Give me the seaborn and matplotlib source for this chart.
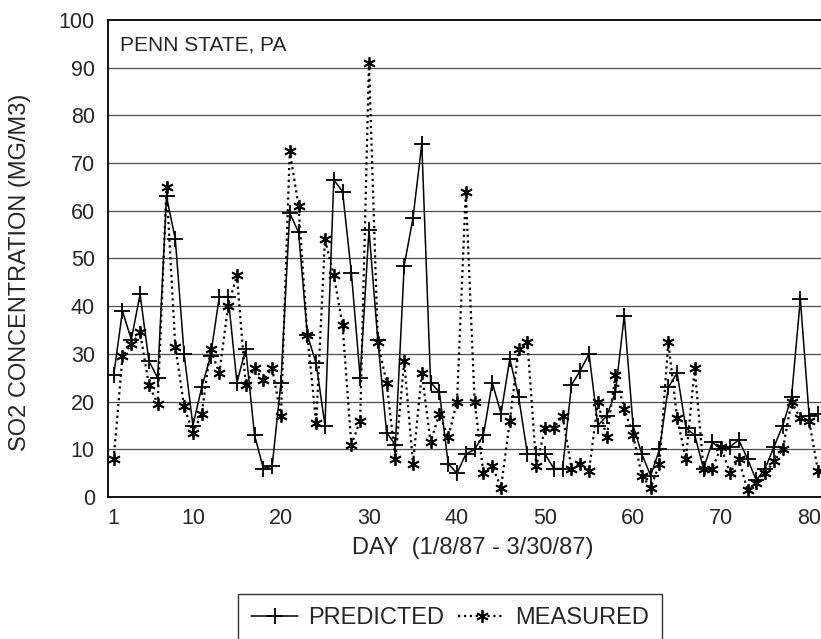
import matplotlib
matplotlib.use('Agg')
import matplotlib.pyplot as plt
from matplotlib.lines import Line2D
import numpy as np
import pandas as pd
import seaborn as sns

# days 1..81 (1/8/87 - 3/30/87)
days = list(range(1, 82))

predicted = [25.5, 39, 33, 42.5, 28.5, 25, 63, 54, 30, 15,
             23, 29.5, 42, 42, 24, 31, 13, 6, 6.5, 24,
             59.5, 55.5, 34, 28, 15, 66.5, 64, 47, 25, 56,
             33, 13.5, 11, 48.5, 58.5, 74, 24, 22, 7, 5,
             9, 10, 13, 24, 17.5, 29, 21, 9, 9, 9,
             6, 6, 23.5, 26.5, 30, 15, 17, 22, 38, 15,
             9, 4.5, 10, 23, 26, 14.5, 13, 6, 11.5, 10,
             10.5, 12, 8, 3.5, 6, 10.5, 15, 21, 41.5, 17,
             17.5]

measured = [8, 29.5, 32, 34.5, 23.5, 19.5, 65, 31.5, 19, 13.5,
            17.5, 31, 26, 40, 46.5, 23.5, 27, 24.5, 27, 17,
            72.5, 61, 34, 15.5, 54, 46.5, 36, 11, 16, 91,
            32.5, 24, 8, 28.5, 7, 26, 11.5, 17.5, 12.5, 20,
            64, 20, 5, 6.5, 2, 16, 31, 32.5, 6.5, 14.5,
            14.5, 17, 6, 7, 5.5, 20, 12.5, 25.5, 18.5, 13,
            4.5, 2, 7, 32.5, 16.5, 8, 27, 6, 6, 10.5,
            5, 8, 1.5, 3, 5, 7.5, 10, 20, 16.5, 16,
            5.5]

x_labels = [1, 10, 20, 30, 40, 50, 60, 70, 80]
y_labels = list(range(0, 101, 10))

df = pd.DataFrame({'Day': days, 'PREDICTED': predicted, 'MEASURED': measured})

sns.set_style('white')
plt.rcParams['font.family'] = ['Liberation Sans', 'DejaVu Sans']

fig = plt.figure(figsize=(8.21, 6.39), dpi=100)
ax = fig.add_axes([0.1315, 0.222, 0.868, 0.747])

star = (6, 2, 0)
sns.lineplot(data=df, x='Day', y='MEASURED', ax=ax, color='black', linestyle=':',
             linewidth=1.6, marker=star, markersize=9, markeredgewidth=1.3,
             markeredgecolor='black')
sns.lineplot(data=df, x='Day', y='PREDICTED', ax=ax, color='black', linestyle='-',
             linewidth=1.1, marker='+', markersize=11, markeredgewidth=1.3,
             markeredgecolor='black')

ax.set_xlim(0.35, 81.3)
ax.set_ylim(0, 100)
ax.set_yticks(y_labels)
ax.set_xticks(x_labels)
ax.set_xticks(days, minor=True)
for v in y_labels[1:-1]:
    ax.axhline(v, color='0.3', linewidth=0.9, zorder=0)

ax.tick_params(axis='y', direction='inout', length=9, width=1, labelsize=15.5, pad=5)
ax.tick_params(axis='x', which='both', direction='out', length=5, width=1, labelsize=15.5, pad=3)

for s in ['left', 'bottom', 'top']:
    ax.spines[s].set_color('black')
    ax.spines[s].set_linewidth(1.3)
ax.spines['right'].set_visible(False)

ax.set_xlabel('DAY  (1/8/87 - 3/30/87)', fontsize=17)
ax.set_ylabel('SO2 CONCENTRATION (MG/M3)', fontsize=17)
ax.xaxis.set_label_coords(0.512, -0.084)
ax.yaxis.set_label_coords(-0.108, 0.47)

ax.text(0.017, 0.968, 'PENN STATE, PA', transform=ax.transAxes, fontsize=15,
        va='top', ha='left')

handles = [Line2D([], [], color='black', linestyle='-', linewidth=1.1, marker='+',
                  markersize=11, markeredgewidth=1.3),
           Line2D([], [], color='black', linestyle=':', linewidth=1.6, marker=star,
                  markersize=9, markeredgewidth=1.3)]
leg = fig.legend(handles, ['PREDICTED', 'MEASURED'], loc='upper center',
                 bbox_to_anchor=(0.548, 0.089), ncol=2, fontsize=17, frameon=True,
                 fancybox=False, handlelength=2.0, columnspacing=0.6, handletextpad=0.4,
                 borderpad=0.55)
leg.get_frame().set_edgecolor('black')
leg.get_frame().set_linewidth(1.0)

plt.savefig('out.png', dpi=100)
